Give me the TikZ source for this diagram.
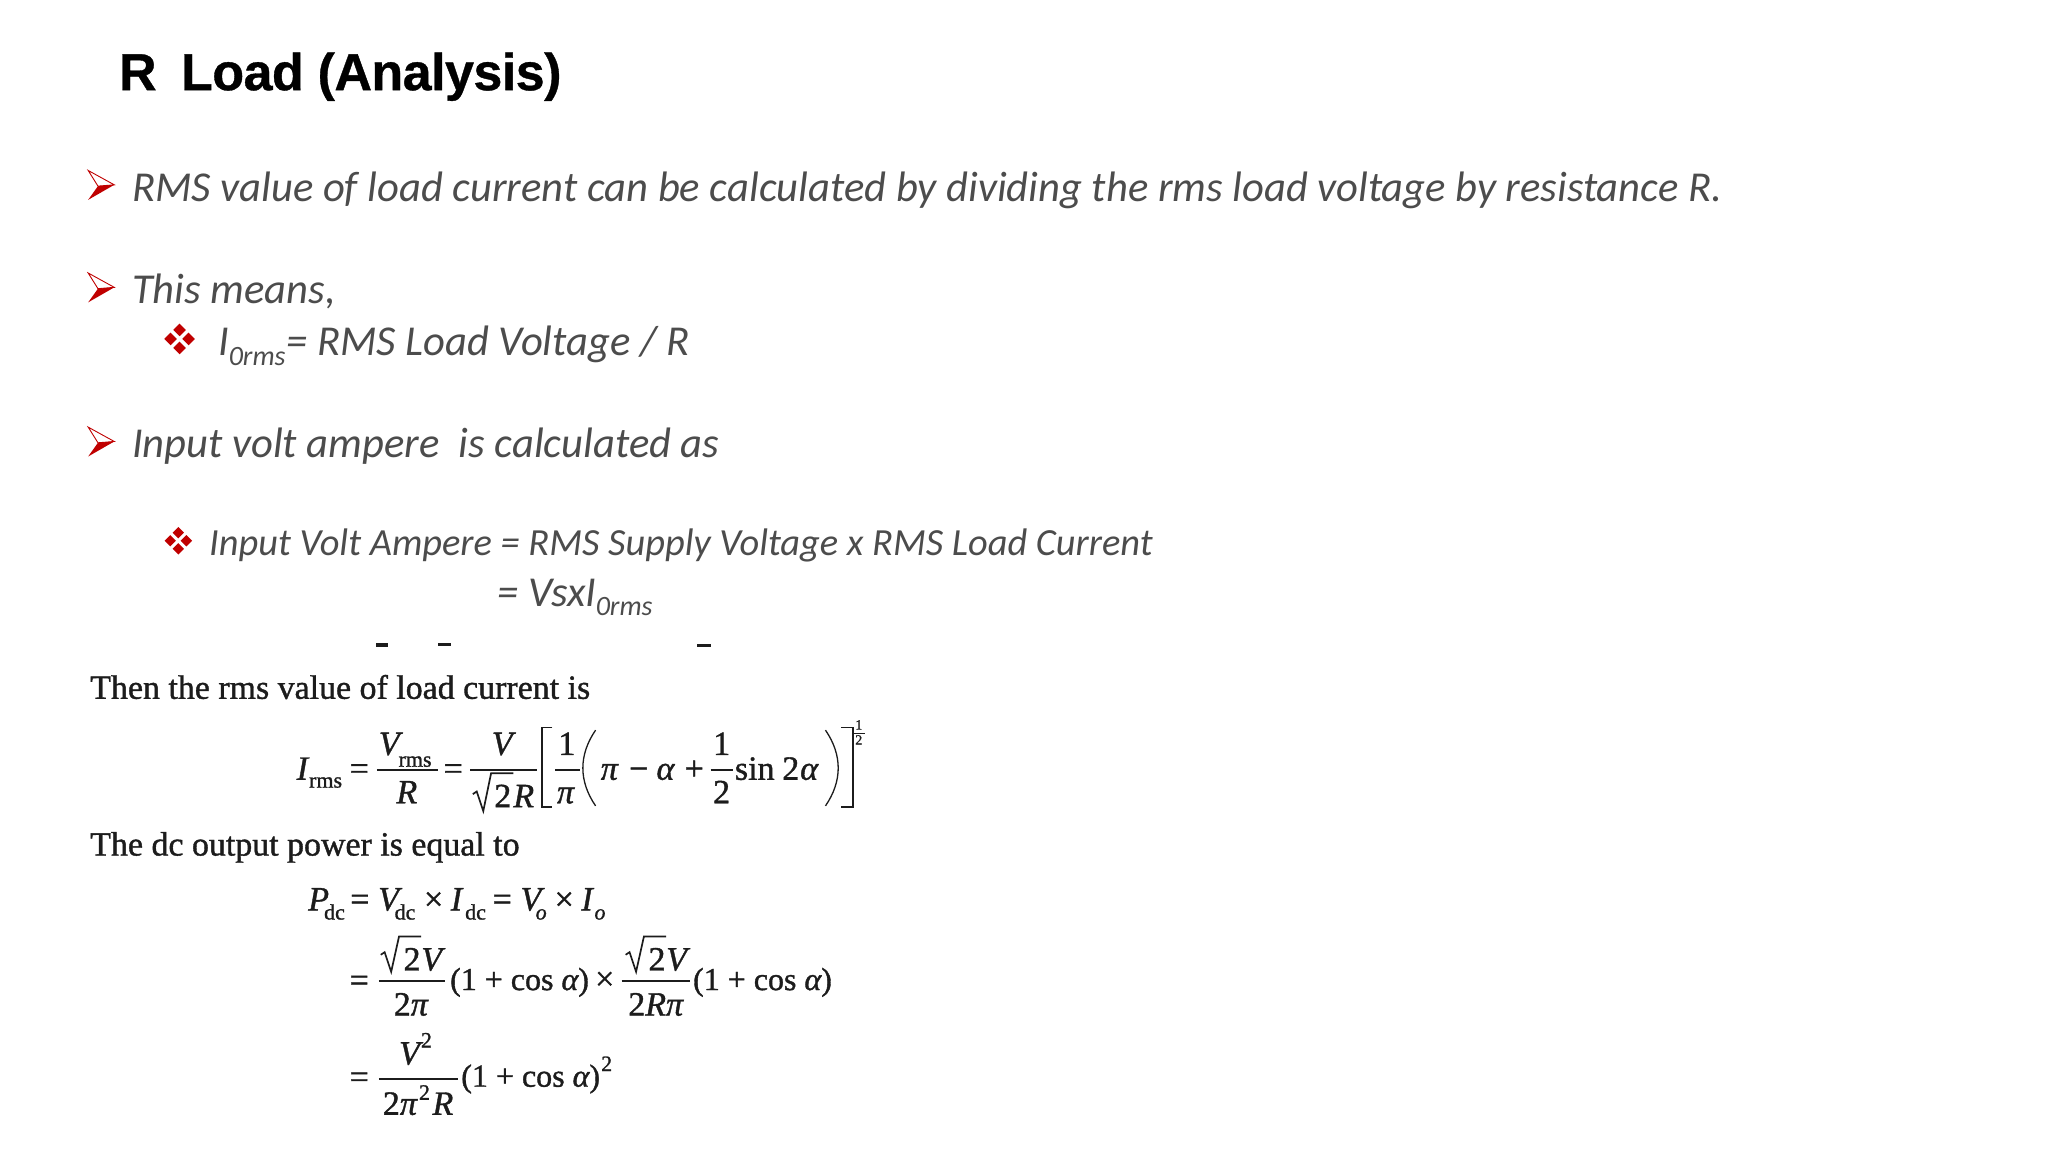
\documentclass[tikz,border=0pt]{standalone}
\usepackage{fontspec}
\setmainfont{Liberation Serif}
\newfontfamily\titlef[FakeBold=0.7,LetterSpace=-1.0]{Liberation Sans}
\newfontfamily\bodyf{Carlito}
\newfontfamily\eqf[FakeBold=1.1]{Liberation Serif}
\definecolor{bodygray}{HTML}{4C4C4C}
\definecolor{bulletred}{HTML}{C00000}
\definecolor{scanink}{HTML}{1C1C1C}
\newcounter{piece}
\newcommand{\eqfs}[1]{\fontsize{#1}{#1}\selectfont}
% text piece: anchor, x, y, size, text
\newcommand{\Tx}[5][base west]{\stepcounter{piece}\node[eqtext,anchor=#1] (p\thepiece) at (#2,#3) {\eqfs{#4}#5};}
\newcommand{\ArrowB}[2]{\begin{scope}[shift={(#1,#2)}]
 \filldraw[draw=bulletred,fill=white,line width=0.9pt,line join=miter] (-10,-11) -- (10,0) -- (-2.5,1) -- cycle;
 \fill[bulletred] (-2.5,1) -- (10,0) -- (-10,11.5) -- cycle;
\end{scope}}
\newcommand{\DiaB}[3]{\begin{scope}[shift={(#1,#2)}]
 \foreach \dx/\dy in {1/0,-1/0,0/1,0/-1}
  \fill[bulletred] (\dx*#3,\dy*#3) +(-.7*#3,0) -- +(0,.7*#3) -- +(.7*#3,0) -- +(0,-.7*#3) -- cycle;
\end{scope}}
% radical: left x, end of vinculum, top y, bottom y
\newcommand{\Sq}[4]{\draw[eqline,line join=miter] (#1,#4-13) -- (#1+3,#4-15) -- (#1+8,#4) -- (#1+14,#3) -- (#2,#3);}
\newcommand{\Bar}[3]{\draw[eqline] (#1,#3) -- (#2,#3);}
\tikzset{
 x=1.30612pt,y=-1.30612pt,
 titletext/.style={inner sep=0pt,anchor=base west,text=black,font=\titlef\bfseries\fontsize{52}{52}\selectfont},
 bodytext/.style={inner sep=0pt,anchor=base west,text=bodygray,font=\bodyf\itshape\fontsize{42.6}{44}\selectfont},
 smalltext/.style={bodytext,font=\bodyf\itshape\fontsize{38.4}{40}\selectfont},
 subtext/.style={bodytext,font=\bodyf\itshape\fontsize{28}{29}\selectfont},
 eqtext/.style={inner sep=0pt,text=scanink,font=\eqf},
 eqline/.style={draw=scanink,line width=1.7pt},
}
\begin{document}
\begin{tikzpicture}
\useasboundingbox[fill=white] (0,0) rectangle (1568,882);
\node[titletext] (title) at (91,69) {R\hspace{0.47em}Load (Analysis)};
\ArrowB{77.5}{141.5}
\node[bodytext] (l1) at (101,154.2) {RMS value of load current can be calculated by dividing the rms load voltage by resistance R.};
\ArrowB{77.5}{220}
\node[bodytext] (l2) at (101,232.2) {This means,};
\DiaB{137.5}{259.5}{6.9}
\node[bodytext] (l3a) at (167,272) {I};
\node[subtext] (l3b) at (175,280) {0rms};
\node[bodytext] (l3c) at (219,272) {= RMS Load Voltage / R};
\ArrowB{77.5}{338}
\node[bodytext] (l4) at (101,350.2) {Input volt ampere\ \ is calculated as};
\DiaB{136.5}{414}{6.2}
\node[smalltext] (l5) at (160,425) {Input Volt Ampere = RMS Supply Voltage x RMS Load Current};
\node[bodytext] (l6a) at (381,464) {= VsxI};
\node[subtext] (l6b) at (456,471.5) {0rms};
% scan remnants
\fill[scanink] (288,492.5) rectangle (297,495.5);
\fill[scanink] (335,492.5) rectangle (345,494.5);
\fill[scanink] (534,493) rectangle (544,495.5);
% scanned equations
\Tx{69}{535}{33.9}{Then the rms value of load current is}
\Tx[base]{231.5}{597}{34}{\itshape I}
\Tx{236.5}{603}{22}{rms}
\Tx[base]{275}{597}{34}{=}
\Tx[base]{298}{578}{34}{\itshape V}
\Tx{305}{587}{22}{rms}
\Bar{288.5}{335}{589.5}
\Tx[base]{311.5}{615}{34}{\itshape R}
\Tx[base]{347}{597}{34}{=}
\Tx[base]{384.5}{578}{34}{\itshape V}
\Bar{360}{411}{589.5}
\Sq{362}{393}{592}{621}
\Tx[base]{385}{618}{34}{2}
\Tx[base]{401}{618}{34}{\itshape R}
\draw[eqline] (423,557) -- (415,557) -- (415,618) -- (423,618);
\Tx[base]{434}{578}{34}{1}
\Bar{425}{444}{589.5}
\Tx[base]{433}{615}{34}{\itshape π}
\draw[eqline,line width=1.3pt] (456,559) .. controls (443,578) and (443,598) .. (456,617);
\Tx[base]{466.5}{597}{34}{\itshape π}
\Tx[base]{489}{597}{34}{−}
\Tx[base]{509.5}{597}{34}{\itshape α}
\Tx[base]{531.5}{597}{34}{+}
\Tx[base]{552.5}{578}{34}{1}
\Bar{544}{561}{589.5}
\Tx[base]{552.5}{615}{34}{2}
\Tx{562.5}{597}{34}{sin}
\Tx[base]{605.5}{597}{34}{2}
\Tx[base]{619.5}{597}{34}{\itshape α}
\draw[eqline,line width=1.3pt] (632,559) .. controls (645,578) and (645,598) .. (632,617);
\draw[eqline] (644,557) -- (653,557) -- (653,618) -- (644,618);
\Tx[base]{657.5}{558.5}{14}{1}
\Bar{653}{662}{561.5}
\Tx[base]{657.5}{570}{14}{2}
\Tx{69}{655}{33.9}{The dc output power is equal to}
\Tx[base]{244}{697}{34}{\itshape P}
\Tx{248}{704}{22}{dc}
\Tx[base]{275.5}{697}{34}{=}
\Tx[base]{297.5}{697}{34}{\itshape V}
\Tx{302}{704}{22}{dc}
\Tx[base]{332}{697}{34}{×}
\Tx[base]{349.5}{697}{34}{\itshape I}
\Tx{356}{704}{22}{dc}
\Tx[base]{384.5}{697}{34}{=}
\Tx[base]{406.5}{697}{34}{\itshape V}
\Tx{410}{704}{22}{\itshape o}
\Tx[base]{432}{697}{34}{×}
\Tx[base]{449.5}{697}{34}{\itshape I}
\Tx{455}{704}{22}{\itshape o}
\Tx[base]{275}{759}{34}{=}
\Sq{291.5}{322.5}{717}{744}
\Tx[base]{315.5}{743}{34}{2}
\Tx[base]{330.5}{743}{34}{\itshape V}
\Bar{290}{341}{751}
\Tx[base]{314.5}{777.5}{34}{2\itshape π}
\Tx{344.5}{758}{32}{(1 + cos \itshape α\upshape )}
\Tx[base]{463}{758}{34}{×}
\Sq{479}{510}{717}{744}
\Tx[base]{503}{743}{34}{2}
\Tx[base]{518}{743}{34}{\itshape V}
\Bar{476}{528}{751}
\Tx[base]{502}{777.5}{34}{2\itshape Rπ}
\Tx{530.5}{758}{32}{(1 + cos \itshape α\upshape )}
\Tx[base]{275}{833}{34}{=}
\Tx[base]{313.5}{815}{34}{\itshape V}
\Tx[base]{326.5}{802}{22}{2}
\Bar{290}{350.5}{826}
\Tx{293}{853.5}{34}{2\itshape π}
\Tx[base]{325}{842}{22}{2}
\Tx{331}{853.5}{34}{\itshape R}
\Tx{353}{832}{32}{(1 + cos \itshape α\upshape )}
\Tx[base]{464.5}{820}{22}{2}
\end{tikzpicture}
\end{document}
